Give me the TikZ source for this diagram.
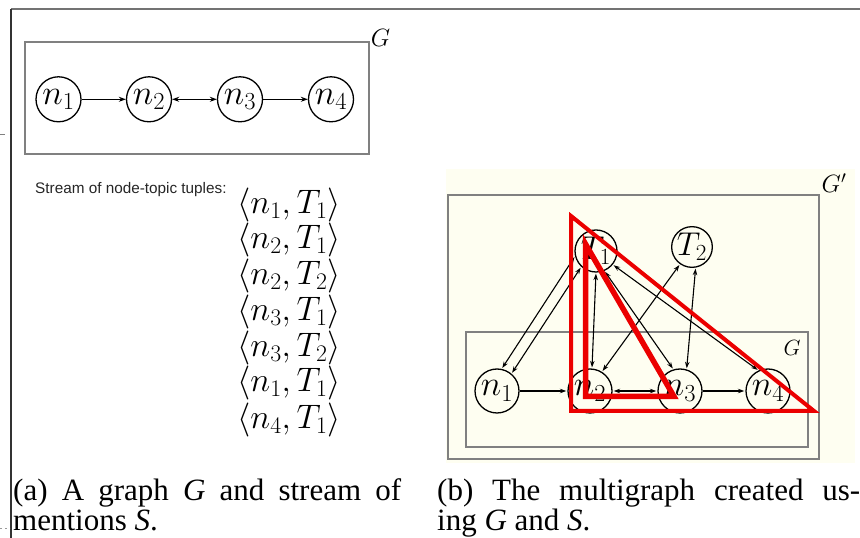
\RequirePackage{fix-cm}
\documentclass[tikz,border=0pt]{standalone}
\usepackage[no-math]{fontspec}
\newfontfamily\sansfnt{Liberation Sans}
\newfontfamily\capfnt{Liberation Serif}
\usetikzlibrary{arrows.meta}
\definecolor{ivory}{RGB}{254,254,241}
\definecolor{boxgray}{RGB}{128,128,128}
\definecolor{markred}{RGB}{235,0,0}
\begin{document}
\begin{tikzpicture}[x=1pt,y=1pt,
  vnode/.style={circle,draw,line width=1.3pt,minimum size=45pt,inner sep=0pt,font=\fontsize{35}{40}\selectfont},
  tnode/.style={circle,draw,line width=1.3pt,minimum size=42pt,inner sep=0pt,font=\fontsize{33}{38}\selectfont},
  frame/.style={draw=boxgray,line width=1.5pt},
  arra/.style={line width=1.2pt,-{Stealth[length=7pt,width=5pt]}},
  arrab/.style={line width=1.2pt,{Stealth[length=7pt,width=5pt]}-{Stealth[length=7pt,width=5pt]}},
  arrb/.style={line width=1.1pt,-{Stealth[length=6.5pt,width=4.5pt]},shorten >=1pt},
  arrbb/.style={line width=1.1pt,{Stealth[length=6.5pt,width=4.5pt]}-{Stealth[length=6.5pt,width=4.5pt]},shorten >=1pt,shorten <=1pt},
  tuple/.style={anchor=west,inner sep=0pt,font=\fontsize{34}{38}\selectfont},
  glabel/.style={inner sep=0pt,font=\fontsize{25}{28}\selectfont},
  caption/.style={anchor=base west,inner sep=0pt,font=\capfnt\fontsize{31}{34}\selectfont},
  redmark/.style={draw=markred,line join=miter}]
\useasboundingbox (0,0) rectangle (860,538);
% page borders
\draw[black!55,line width=2pt] (11,529) -- (860,529);
\draw[black!80,line width=1.5pt] (11,529) -- (11,0);
\draw[black!50,line width=1pt] (0,403) -- (5,403);
\draw[black!40,line width=1pt,dash pattern=on 2pt off 3pt] (0,9) -- (10,9);
% ---------- panel (a)
\draw[frame] (25,496) rectangle (369,384);
\node[glabel] (Ga) at (380.5,500.5) {$G$};
\node[vnode] (a1) at (58.5,438.7) {$n_1$};
\node[vnode] (a2) at (149,438.7) {$n_2$};
\node[vnode] (a3) at (240,438.7) {$n_3$};
\node[vnode] (a4) at (331,438.7) {$n_4$};
\draw[arra] (a1) -- (a2);
\draw[arrab] (a2) -- (a3);
\draw[arra] (a3) -- (a4);
\node[anchor=west,inner sep=0pt,text=black!85,font=\sansfnt\fontsize{15.3}{18}\selectfont] (stream) at (35,348) {Stream of node-topic tuples:};
\node[tuple] (s1) at (237,333) {$\langle n_1,T_1\rangle$};
\node[tuple] (s2) at (237,298) {$\langle n_2,T_1\rangle$};
\node[tuple] (s3) at (237,262) {$\langle n_2,T_2\rangle$};
\node[tuple] (s4) at (237,226) {$\langle n_3,T_1\rangle$};
\node[tuple] (s5) at (237,190) {$\langle n_3,T_2\rangle$};
\node[tuple] (s6) at (237,155) {$\langle n_1,T_1\rangle$};
\node[tuple] (s7) at (237,118) {$\langle n_4,T_1\rangle$};
% ---------- panel (b)
\fill[ivory] (446,369) rectangle (855,75);
\draw[frame] (448,343) rectangle (819,79);
\node[glabel] (Gp) at (834,355) {$G'$};
\draw[frame] (466,206) rectangle (808,91);
\node[glabel,font=\fontsize{22}{26}\selectfont] (Gb) at (792,190) {$G$};
\node[vnode,minimum size=44pt] (b1) at (497,147) {$n_1$};
\node[vnode,minimum size=44pt] (b2) at (590,147) {$n_2$};
\node[vnode,minimum size=44pt] (b3) at (680,147) {$n_3$};
\node[vnode,minimum size=44pt] (b4) at (768,147) {$n_4$};
\node[tnode] (T1) at (596,287) {$T_1$};
\node[tnode,minimum size=39pt] (T2) at (692,291) {$T_2$};
\draw[arrb] (b1) -- (b2);
\draw[arrbb] (b2) -- (b3);
\draw[arrb] (b3) -- (b4);
\draw[arrbb] (T1.194) -- (b1.78);
\draw[arrbb] (T1.227) -- (b1.50);
\draw[arrbb] (T1.270) -- (b2.85);
\draw[arrbb] (T1.293) -- (b3.107);
\draw[arrbb] (T1.321) -- (b4.115);
\draw[arrbb] (T2.235) -- (b2.58);
\draw[arrbb] (T2.280) -- (b3.73);
% red marks
\draw[redmark,line width=4pt] (571,322) -- (571,127) -- (814,127) -- cycle;
\draw[redmark,line width=5.5pt] (585.5,294) -- (585.5,141.5) -- (674,141.5) -- cycle;
% ---------- captions
\node[caption] (capa1) at (13,37) {\makebox[388pt][s]{(a) A graph \textit{G} and stream of}};
\node[caption] (capa2) at (13,7) {mentions \textit{S}.};
\node[caption] (capb1) at (437,37) {\makebox[423pt][s]{(b) The multigraph created us-}};
\node[caption] (capb2) at (437,7) {ing \textit{G} and \textit{S}.};
\end{tikzpicture}
\end{document}
